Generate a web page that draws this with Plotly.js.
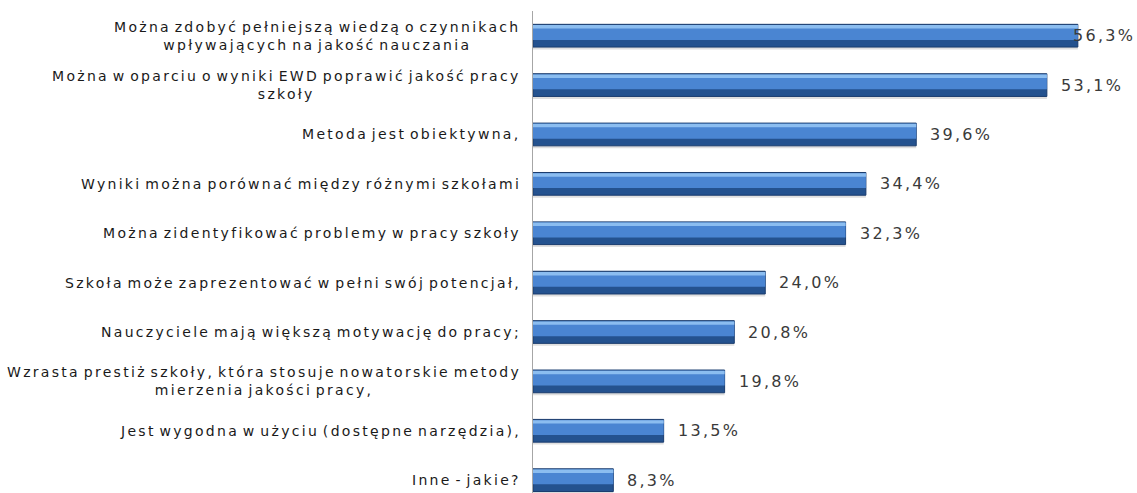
<!DOCTYPE html>
<html>
<head>
<meta charset="utf-8">
<script src="https://cdn.plot.ly/plotly-3.0.1.min.js"></script>
<style>
  html, body { margin: 0; padding: 0; background: #fff; }
  #chart { width: 1137px; height: 493px; }
  /* the original font is wide and loosely spaced */
  .annotation-text { letter-spacing: 2.3px; word-spacing: -3px; }
</style>
</head>
<body>
<div id="chart"></div>
<script>
// answers, top to bottom
let categories = [
    'Można zdobyć pełniejszą wiedzą o czynnikach<br>wpływających na jakość nauczania',
    'Można w oparciu o wyniki EWD poprawić jakość pracy<br>szkoły',
    'Metoda jest obiektywna,',
    'Wyniki można porównać między różnymi szkołami',
    'Można zidentyfikować problemy w pracy szkoły',
    'Szkoła może zaprezentować w pełni swój potencjał,',
    'Nauczyciele mają większą motywację do pracy;',
    'Wzrasta prestiż szkoły, która stosuje nowatorskie metody<br>mierzenia jakości pracy,',
    'Jest wygodna w użyciu (dostępne narzędzia),',
    'Inne - jakie?'
];
let values = [56.3, 53.1, 39.6, 34.4, 32.3, 24.0, 20.8, 19.8, 13.5, 8.3];

const xMax = 62;
const plotWidth = 600;
const fontName = 'DejaVu Sans, sans-serif';

function fmt(v) {
    return v.toFixed(1).replace('.', ',') + '%';
}

// one bar look: soft shadow, dark body, lighter middle band, bright top edge
function layer(width, offset, color, line) {
    return {
        type: 'bar', orientation: 'h',
        x: values, y: categories,
        width: width, offset: offset,
        marker: {color: color, line: line || {width: 0}},
        hoverinfo: 'skip'
    };
}
let shadow = layer(0.46, -0.18, 'rgba(110,110,110,0.22)');
let body = layer(0.46, -0.23, '#24528f', {color: '#1a3c6e', width: 1});
let band = layer(0.30, -0.215, '#4a85d2');
let edge = layer(0.07, -0.215, '#8bbdf0');

let annotations = [];
categories.forEach((c, i) => {
    // category label left of the axis
    annotations.push({
        xref: 'paper', x: 0, xshift: -10, xanchor: 'right',
        yref: 'y', y: c, yanchor: 'middle',
        text: c, showarrow: false, align: 'center',
        font: {family: fontName, size: 14, color: '#1a1a1a'}
    });
    // value label after the bar
    let fits = values[i] + 75 * xMax / plotWidth < xMax;
    annotations.push(fits ? {
        xref: 'x', x: values[i], xshift: 12, xanchor: 'left',
        yref: 'y', y: c, yanchor: 'middle',
        text: fmt(values[i]), showarrow: false,
        font: {family: fontName, size: 16, color: '#3a3a3a'}
    } : {
        xref: 'paper', x: 1, xshift: 4, xanchor: 'right',
        yref: 'y', y: c, yanchor: 'middle',
        text: fmt(values[i]), showarrow: false,
        font: {family: fontName, size: 16, color: '#3a3a3a'}
    });
});

let layout = {
    width: 1137, height: 493,
    margin: {l: 533, r: 4, t: 11, b: 0},
    paper_bgcolor: '#fff', plot_bgcolor: '#fff',
    barmode: 'overlay',
    showlegend: false,
    xaxis: {range: [0, xMax], visible: false, fixedrange: true},
    yaxis: {
        type: 'category',
        range: [9.26, -0.5],
        showticklabels: false,
        showgrid: false, zeroline: false,
        showline: true, linecolor: '#a6a6a6', linewidth: 1,
        fixedrange: true
    },
    annotations: annotations
};

Plotly.newPlot('chart', [shadow, body, band, edge], layout, {displayModeBar: false, staticPlot: true});
</script>
</body>
</html>
